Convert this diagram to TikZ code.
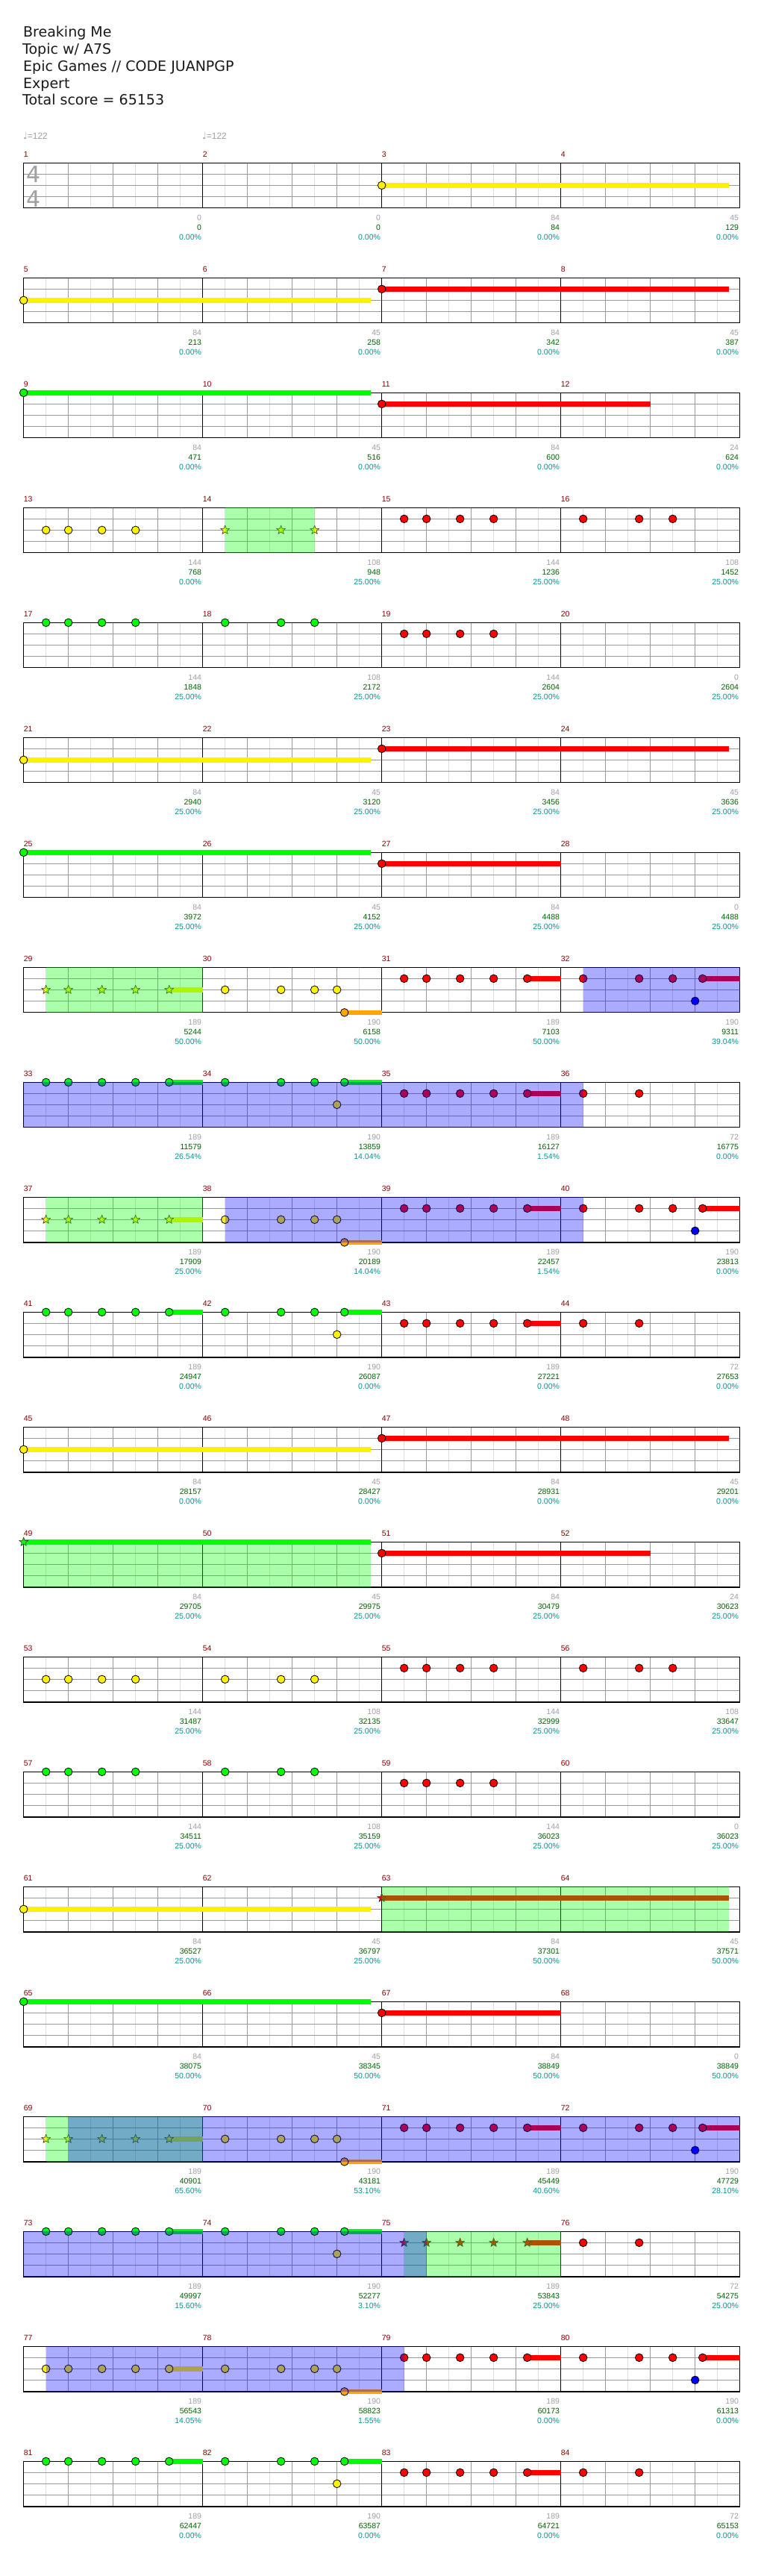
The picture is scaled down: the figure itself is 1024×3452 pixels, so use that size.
\documentclass[tikz,border=0pt]{standalone}
\usepackage{fontspec}
\setmainfont{DejaVu Sans}
\newfontfamily\numfont{Liberation Sans}
\newfontfamily\djv{DejaVu Sans}
\definecolor{myorange}{RGB}{255,165,0}
\definecolor{mred}{RGB}{139,0,0}
\definecolor{ngray}{RGB}{160,160,160}
\definecolor{ngreen}{RGB}{0,100,0}
\definecolor{nteal}{RGB}{0,150,150}
\definecolor{glight}{RGB}{221,221,221}
\definecolor{gmid}{RGB}{153,153,153}
\tikzset{
  notestyle/.style={draw=black,line width=0.8pt},
  starstyle/.style={draw=black!80,line width=0.6pt,line join=round},
  gl/.style={draw=glight,line width=1pt},
  gq/.style={draw=gmid,line width=1pt},
  ml/.style={draw=black,line width=1pt},
  bd/.style={draw=black,line width=1.3pt},
  mnum/.style={anchor=base west,inner sep=0pt,text=mred,font={\numfont\fontsize{10.5}{12}\selectfont}},
  gnum/.style={anchor=base east,inner sep=0pt,text=ngray,font={\numfont\fontsize{10.5}{12}\selectfont}},
  snum/.style={anchor=base east,inner sep=0pt,text=ngreen,font={\numfont\fontsize{10.5}{12}\selectfont}},
  pnum/.style={anchor=base east,inner sep=0pt,text=nteal,font={\numfont\fontsize{10.5}{12}\selectfont}},
  ttl/.style={anchor=base west,inner sep=0pt,text=black!90,font={\fontsize{19}{22}\selectfont}},
  tempo/.style={anchor=base west,inner sep=0pt,text=ngray,font={\numfont\fontsize{12}{14}\selectfont}},
  tsig/.style={inner sep=0pt,text=ngray,font={\fontsize{30}{32}\selectfont}}
}
\newcommand\bx[2]{31.67+240*(#1)+15*(#2)}
\def\LG{0}\def\LR{15}\def\LY{30}\def\LB{45}\def\LO{60.5}
\newcommand\nnote[4]{\filldraw[notestyle,fill=#4] ({\bx{#1}{#2}},#3) ellipse [x radius=5.3pt,y radius=5.3pt];}
\newcommand\nsus[5]{\fill[#5] ({\bx{#1}{#2}},{#4-3.25}) rectangle ({\bx{#1}{#3}},{#4+3.25});}
\newcommand\nstar[4]{\filldraw[starstyle,fill=#4] ({\bx{#1}{#2}},#3) +(270:6.3) -- +(306:2.6) -- +(342:6.3) -- +(18:2.6) -- +(54:6.3) -- +(90:2.6) -- +(126:6.3) -- +(162:2.6) -- +(198:6.3) -- +(234:2.6) -- cycle;}
\newcommand\nreg[5]{\fill[#5,opacity=0.33] ({\bx{#1}{#2}},0) rectangle ({\bx{#3}{#4}},60.5);}
\newcommand\patA[3]{\foreach \kk in {2,4,7,10}{\nnote{#1}{\kk}{#2}{#3}}}
\newcommand\patB[3]{\foreach \kk in {2,7,10}{\nnote{#1}{\kk}{#2}{#3}}}
\newcommand\patC[3]{\nsus{#1}{13}{16}{#2}{#3}\foreach \kk in {2,4,7,10,13}{\nnote{#1}{\kk}{#2}{#3}}}
\newcommand\patD[7]{\nsus{#1}{12.667}{16}{#6}{#7}\foreach \kk in {2,7,10}{\nnote{#1}{\kk}{#2}{#3}}\nnote{#1}{12}{#4}{#5}\nnote{#1}{12.667}{#6}{#7}}
\newcommand\patE[3]{\foreach \kk in {2,7}{\nnote{#1}{\kk}{#2}{#3}}}
\newcommand\starB[3]{\foreach \kk in {2,7,10}{\nstar{#1}{\kk}{#2}{#3}}}
\newcommand\starC[3]{\nsus{#1}{13}{16}{#2}{#3}\foreach \kk in {2,4,7,10,13}{\nstar{#1}{\kk}{#2}{#3}}}
\newcommand\longn[4]{\nsus{#1}{0}{#3}{#2}{#4}\nnote{#1}{0}{#2}{#4}}
\newcommand\longs[4]{\nsus{#1}{0}{#3}{#2}{#4}\nstar{#1}{0}{#2}{#4}}
\newcommand\nstaff{%
  \foreach \mcol in {0,...,3}{%
    \foreach \kidx in {1,3,5,7}{\draw[gl] ({\bx{\mcol}{2*\kidx}},0) -- ({\bx{\mcol}{2*\kidx}},60.5);}
    \foreach \kidx in {1,2,3}{\draw[gq] ({\bx{\mcol}{4*\kidx}},0) -- ({\bx{\mcol}{4*\kidx}},60.5);}}
  \foreach \yy in {15,30,45}{\draw[gq] (31.67,\yy) -- (991.67,\yy);}
  \foreach \mcol in {1,2,3}{\draw[ml] ({\bx{\mcol}{0}},0) -- ({\bx{\mcol}{0}},60.5);}
  \draw[bd] (31.67,0) rectangle (991.67,60.5);}
\newcommand\mlab[5]{%
  \node[mnum] (mn#2) at ({\bx{#1}{0}},-7.7) {#2};
  \node[gnum] (gv#2) at ({\bx{#1}{16}-1.5},77) {#3};
  \node[snum] (sv#2) at ({\bx{#1}{16}-1.5},90) {#4};
  \node[pnum] (pv#2) at ({\bx{#1}{16}-1.5},102.7) {#5\%};}
\begin{document}
\begin{tikzpicture}[x=1pt,y=-1pt]
\useasboundingbox (0,0) rectangle (1024,3452);
\fill[white] (0,0) rectangle (1024,3452);
\node[ttl] (t1) at (31,49.3) {Breaking Me};
\node[ttl] (t2) at (30,72.3) {Topic w/ A7S};
\node[ttl] (t3) at (31,95.7) {Epic Games // CODE JUANPGP};
\node[ttl] (t4) at (31,118.3) {Expert};
\node[ttl] (t5) at (30,141) {Total score = 65153};
\node[tempo] (tp1) at (31,186) {{\djv ♩}=122};
\node[tempo] (tp2) at (271,186) {{\djv ♩}=122};
% row 0
\begin{scope}[shift={(0,218.33)}]
\nstaff
\node[tsig] (ts1) at (44.7,15.5) {4};
\node[tsig] (ts2) at (44.7,48.7) {4};
\longn{2}{\LY}{31}{yellow}
\mlab{0}{1}{0}{0}{0.00}\mlab{1}{2}{0}{0}{0.00}\mlab{2}{3}{84}{84}{0.00}\mlab{3}{4}{45}{129}{0.00}
\end{scope}
% row 1
\begin{scope}[shift={(0,372.33)}]
\nstaff
\longn{0}{\LY}{31}{yellow}\longn{2}{\LR}{31}{red}
\mlab{0}{5}{84}{213}{0.00}\mlab{1}{6}{45}{258}{0.00}\mlab{2}{7}{84}{342}{0.00}\mlab{3}{8}{45}{387}{0.00}
\end{scope}
% row 2
\begin{scope}[shift={(0,526.33)}]
\nstaff
\longn{0}{\LG}{31}{green}\longn{2}{\LR}{24}{red}
\mlab{0}{9}{84}{471}{0.00}\mlab{1}{10}{45}{516}{0.00}\mlab{2}{11}{84}{600}{0.00}\mlab{3}{12}{24}{624}{0.00}
\end{scope}
% row 3
\begin{scope}[shift={(0,680.33)}]
\nstaff
\patA{0}{\LY}{yellow}\starB{1}{\LY}{yellow}\patA{2}{\LR}{red}\patB{3}{\LR}{red}
\nreg{1}{2}{1}{10}{green}
\mlab{0}{13}{144}{768}{0.00}\mlab{1}{14}{108}{948}{25.00}\mlab{2}{15}{144}{1236}{25.00}\mlab{3}{16}{108}{1452}{25.00}
\end{scope}
% row 4
\begin{scope}[shift={(0,834.33)}]
\nstaff
\patA{0}{\LG}{green}\patB{1}{\LG}{green}\patA{2}{\LR}{red}
\mlab{0}{17}{144}{1848}{25.00}\mlab{1}{18}{108}{2172}{25.00}\mlab{2}{19}{144}{2604}{25.00}\mlab{3}{20}{0}{2604}{25.00}
\end{scope}
% row 5
\begin{scope}[shift={(0,988.33)}]
\nstaff
\longn{0}{\LY}{31}{yellow}\longn{2}{\LR}{31}{red}
\mlab{0}{21}{84}{2940}{25.00}\mlab{1}{22}{45}{3120}{25.00}\mlab{2}{23}{84}{3456}{25.00}\mlab{3}{24}{45}{3636}{25.00}
\end{scope}
% row 6
\begin{scope}[shift={(0,1142.33)}]
\nstaff
\longn{0}{\LG}{31}{green}\longn{2}{\LR}{16}{red}
\mlab{0}{25}{84}{3972}{25.00}\mlab{1}{26}{45}{4152}{25.00}\mlab{2}{27}{84}{4488}{25.00}\mlab{3}{28}{0}{4488}{25.00}
\end{scope}
% row 7
\begin{scope}[shift={(0,1296.33)}]
\nstaff
\starC{0}{\LY}{yellow}\patD{1}{\LY}{yellow}{\LY}{yellow}{\LO}{myorange}\patC{2}{\LR}{red}\patD{3}{\LR}{red}{\LB}{blue}{\LR}{red}
\nreg{0}{2}{0}{16}{green}\nreg{3}{2}{3}{16}{blue}
\mlab{0}{29}{189}{5244}{50.00}\mlab{1}{30}{190}{6158}{50.00}\mlab{2}{31}{189}{7103}{50.00}\mlab{3}{32}{190}{9311}{39.04}
\end{scope}
% row 8
\begin{scope}[shift={(0,1450.33)}]
\nstaff
\patC{0}{\LG}{green}\patD{1}{\LG}{green}{\LY}{yellow}{\LG}{green}\patC{2}{\LR}{red}\patE{3}{\LR}{red}
\nreg{0}{0}{3}{2}{blue}
\mlab{0}{33}{189}{11579}{26.54}\mlab{1}{34}{190}{13859}{14.04}\mlab{2}{35}{189}{16127}{1.54}\mlab{3}{36}{72}{16775}{0.00}
\end{scope}
% row 9
\begin{scope}[shift={(0,1604.33)}]
\nstaff
\starC{0}{\LY}{yellow}\patD{1}{\LY}{yellow}{\LY}{yellow}{\LO}{myorange}\patC{2}{\LR}{red}\patD{3}{\LR}{red}{\LB}{blue}{\LR}{red}
\nreg{0}{2}{0}{16}{green}\nreg{1}{2}{3}{2}{blue}
\mlab{0}{37}{189}{17909}{25.00}\mlab{1}{38}{190}{20189}{14.04}\mlab{2}{39}{189}{22457}{1.54}\mlab{3}{40}{190}{23813}{0.00}
\end{scope}
% row 10
\begin{scope}[shift={(0,1758.33)}]
\nstaff
\patC{0}{\LG}{green}\patD{1}{\LG}{green}{\LY}{yellow}{\LG}{green}\patC{2}{\LR}{red}\patE{3}{\LR}{red}
\mlab{0}{41}{189}{24947}{0.00}\mlab{1}{42}{190}{26087}{0.00}\mlab{2}{43}{189}{27221}{0.00}\mlab{3}{44}{72}{27653}{0.00}
\end{scope}
% row 11
\begin{scope}[shift={(0,1912.33)}]
\nstaff
\longn{0}{\LY}{31}{yellow}\longn{2}{\LR}{31}{red}
\mlab{0}{45}{84}{28157}{0.00}\mlab{1}{46}{45}{28427}{0.00}\mlab{2}{47}{84}{28931}{0.00}\mlab{3}{48}{45}{29201}{0.00}
\end{scope}
% row 12
\begin{scope}[shift={(0,2066.33)}]
\nstaff
\longs{0}{\LG}{31}{green}\longn{2}{\LR}{24}{red}
\nreg{0}{0}{0}{31}{green}
\mlab{0}{49}{84}{29705}{25.00}\mlab{1}{50}{45}{29975}{25.00}\mlab{2}{51}{84}{30479}{25.00}\mlab{3}{52}{24}{30623}{25.00}
\end{scope}
% row 13
\begin{scope}[shift={(0,2220.33)}]
\nstaff
\patA{0}{\LY}{yellow}\patB{1}{\LY}{yellow}\patA{2}{\LR}{red}\patB{3}{\LR}{red}
\mlab{0}{53}{144}{31487}{25.00}\mlab{1}{54}{108}{32135}{25.00}\mlab{2}{55}{144}{32999}{25.00}\mlab{3}{56}{108}{33647}{25.00}
\end{scope}
% row 14
\begin{scope}[shift={(0,2374.33)}]
\nstaff
\patA{0}{\LG}{green}\patB{1}{\LG}{green}\patA{2}{\LR}{red}
\mlab{0}{57}{144}{34511}{25.00}\mlab{1}{58}{108}{35159}{25.00}\mlab{2}{59}{144}{36023}{25.00}\mlab{3}{60}{0}{36023}{25.00}
\end{scope}
% row 15
\begin{scope}[shift={(0,2528.33)}]
\nstaff
\longn{0}{\LY}{31}{yellow}\longs{2}{\LR}{31}{red}
\nreg{2}{0}{2}{31}{green}
\mlab{0}{61}{84}{36527}{25.00}\mlab{1}{62}{45}{36797}{25.00}\mlab{2}{63}{84}{37301}{50.00}\mlab{3}{64}{45}{37571}{50.00}
\end{scope}
% row 16
\begin{scope}[shift={(0,2682.33)}]
\nstaff
\longn{0}{\LG}{31}{green}\longn{2}{\LR}{16}{red}
\mlab{0}{65}{84}{38075}{50.00}\mlab{1}{66}{45}{38345}{50.00}\mlab{2}{67}{84}{38849}{50.00}\mlab{3}{68}{0}{38849}{50.00}
\end{scope}
% row 17
\begin{scope}[shift={(0,2836.33)}]
\nstaff
\starC{0}{\LY}{yellow}\patD{1}{\LY}{yellow}{\LY}{yellow}{\LO}{myorange}\patC{2}{\LR}{red}\patD{3}{\LR}{red}{\LB}{blue}{\LR}{red}
\nreg{0}{2}{0}{16}{green}\nreg{0}{4}{3}{16}{blue}
\mlab{0}{69}{189}{40901}{65.60}\mlab{1}{70}{190}{43181}{53.10}\mlab{2}{71}{189}{45449}{40.60}\mlab{3}{72}{190}{47729}{28.10}
\end{scope}
% row 18
\begin{scope}[shift={(0,2990.33)}]
\nstaff
\patC{0}{\LG}{green}\patD{1}{\LG}{green}{\LY}{yellow}{\LG}{green}\starC{2}{\LR}{red}\patE{3}{\LR}{red}
\nreg{2}{2}{2}{16}{green}\nreg{0}{0}{2}{4}{blue}
\mlab{0}{73}{189}{49997}{15.60}\mlab{1}{74}{190}{52277}{3.10}\mlab{2}{75}{189}{53843}{25.00}\mlab{3}{76}{72}{54275}{25.00}
\end{scope}
% row 19
\begin{scope}[shift={(0,3144.33)}]
\nstaff
\patC{0}{\LY}{yellow}\patD{1}{\LY}{yellow}{\LY}{yellow}{\LO}{myorange}\patC{2}{\LR}{red}\patD{3}{\LR}{red}{\LB}{blue}{\LR}{red}
\nreg{0}{2}{2}{2}{blue}
\mlab{0}{77}{189}{56543}{14.05}\mlab{1}{78}{190}{58823}{1.55}\mlab{2}{79}{189}{60173}{0.00}\mlab{3}{80}{190}{61313}{0.00}
\end{scope}
% row 20
\begin{scope}[shift={(0,3298.33)}]
\nstaff
\patC{0}{\LG}{green}\patD{1}{\LG}{green}{\LY}{yellow}{\LG}{green}\patC{2}{\LR}{red}\patE{3}{\LR}{red}
\mlab{0}{81}{189}{62447}{0.00}\mlab{1}{82}{190}{63587}{0.00}\mlab{2}{83}{189}{64721}{0.00}\mlab{3}{84}{72}{65153}{0.00}
\end{scope}
\end{tikzpicture}
\end{document}
